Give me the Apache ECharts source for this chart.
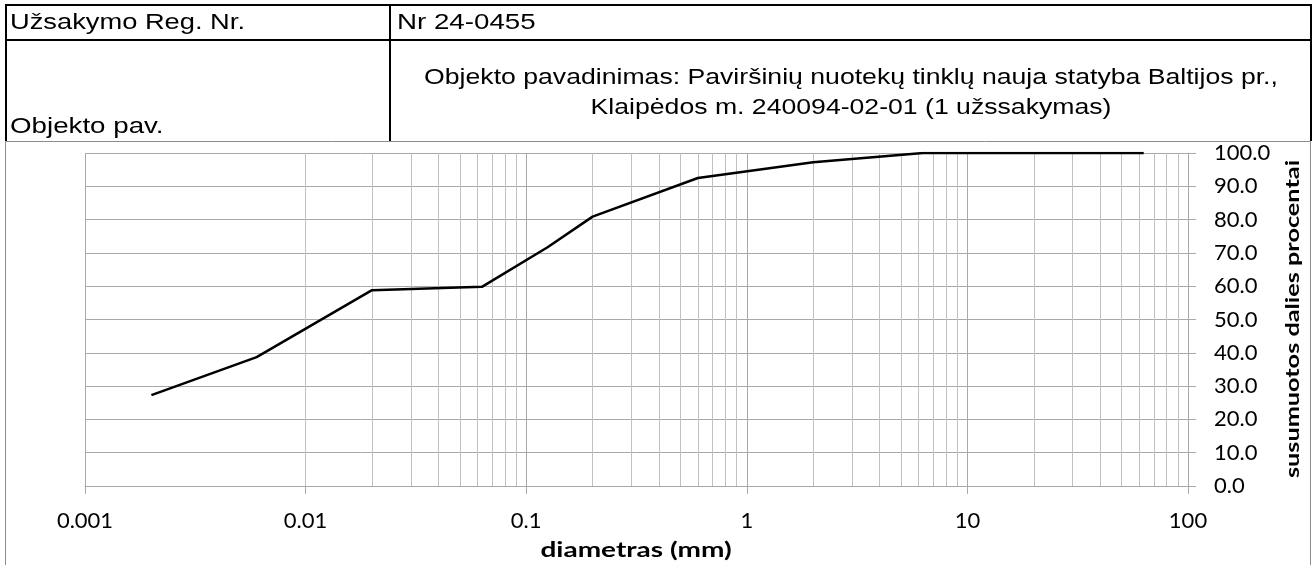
<!DOCTYPE html>
<html>
<head>
<meta charset="utf-8">
<script src="https://cdn.jsdelivr.net/npm/echarts@6/dist/echarts.min.js"></script>
<style>
  html, body { margin: 0; padding: 0; background: #fff; }
  #chart { width: 1313px; height: 565px; }
</style>
</head>
<body>
<div id="chart"></div>
<script>
// Grain size distribution: particle diameter (mm) vs cumulative passing (%)
const diameters = [0.002, 0.006, 0.02, 0.063, 0.125, 0.2, 0.6, 2, 6.3, 20, 63];
const passing   = [27.3, 38.7, 58.8, 59.8, 71.7, 80.9, 92.5, 97.2, 100, 100, 100];

// Log-axis labels, one per decade from 0.001 to 100
const xTickLabels = ['0.001', '0.01', '0.1', '1', '10', '100'];
// Intermediate gridlines inside each decade (2..9 × 10^n)
const minorGrid = [];
for (let e = -3; e < 2; e++) {
  for (let m = 2; m <= 9; m++) minorGrid.push(+(m * Math.pow(10, e)).toPrecision(3));
}

// Header table texts
const headerLabels = ['Užsakymo Reg. Nr.', 'Objekto pav.'];
const headerValues = ['Nr 24-0455',
  'Objekto pavadinimas: Paviršinių nuotekų tinklų nauja statyba Baltijos pr.,\nKlaipėdos m. 240094-02-01 (1 užssakymas)'];

const xTitle = 'diametras (mm)';
const yTitle = 'susumuotos dalies procentai';

const chart = echarts.init(document.getElementById('chart'), null, { renderer: 'canvas' });

const gridColor = '#a9a9a9';
const labelFont = 'Lato, "Open Sans", sans-serif';
const tableFont = '"Liberation Sans", Arial, sans-serif';

const lineBlack = { stroke: '#000', lineWidth: 2 };

chart.setOption({
  animation: false,
  backgroundColor: '#fff',
  grid: { left: 85, right: 125, top: 153, bottom: 79, containLabel: false },
  xAxis: {
    type: 'log',
    logBase: 10,
    min: 0.001,
    max: 100,
    axisLine: { show: true, lineStyle: { color: gridColor, width: 1 } },
    axisTick: { show: true, length: 8, lineStyle: { color: gridColor } },
    axisLabel: {
      margin: 24,
      fontFamily: labelFont,
      fontSize: 22,
      color: '#000',
      formatter: v => xTickLabels[Math.round(Math.log10(v)) + 3]
    },
    splitLine: { show: true, lineStyle: { color: gridColor, width: 1 } }
  },
  yAxis: {
    type: 'value',
    position: 'right',
    min: 0,
    max: 100,
    interval: 10,
    axisLine: { show: true, lineStyle: { color: gridColor, width: 1 } },
    axisTick: { show: true, length: 8, lineStyle: { color: gridColor } },
    axisLabel: {
      margin: 26,
      fontFamily: labelFont,
      fontSize: 22,
      color: '#000',
      formatter: v => v.toFixed(1)
    },
    splitLine: { show: true, lineStyle: { color: gridColor, width: 1 } }
  },
  series: [{
    type: 'line',
    data: diameters.map((d, i) => [d, passing[i]]),
    showSymbol: false,
    symbol: 'none',
    lineStyle: { color: '#000', width: 2.5 },
    z: 5,
    markLine: {
      silent: true,
      symbol: 'none',
      label: { show: false },
      lineStyle: { color: '#c0c0c0', width: 1, type: 'solid' },
      z: 1,
      data: minorGrid.map(v => ({ xAxis: v }))
    }
  }],
  graphic: [
    // chart frame
    { type: 'rect', shape: { x: 5.5, y: 141.5, width: 1305, height: 430 },
      style: { fill: null, stroke: '#8c8c8c', lineWidth: 1 }, z: 0 },
    // header table lines
    { type: 'line', shape: { x1: 5, y1: 5, x2: 1312, y2: 5 }, style: lineBlack },
    { type: 'line', shape: { x1: 5, y1: 40, x2: 1312, y2: 40 }, style: lineBlack },
    { type: 'line', shape: { x1: 6, y1: 4, x2: 6, y2: 141 }, style: lineBlack },
    { type: 'line', shape: { x1: 1311, y1: 4, x2: 1311, y2: 141 }, style: lineBlack },
    { type: 'line', shape: { x1: 390, y1: 4, x2: 390, y2: 141 }, style: lineBlack },
    // header texts
    { type: 'text', x: 10, y: 23, scaleX: 1.24,
      style: { text: headerLabels[0], font: '22px ' + tableFont, fill: '#000', verticalAlign: 'middle' } },
    { type: 'text', x: 397, y: 23, scaleX: 1.26,
      style: { text: headerValues[0], font: '22px ' + tableFont, fill: '#000', verticalAlign: 'middle' } },
    { type: 'text', x: 10, y: 127, scaleX: 1.26,
      style: { text: headerLabels[1], font: '22px ' + tableFont, fill: '#000', verticalAlign: 'middle' } },
    { type: 'text', x: 851, y: 93, scaleX: 1.21,
      style: { text: headerValues[1], font: '22px ' + tableFont, fill: '#000',
               align: 'center', verticalAlign: 'middle', lineHeight: 30 } },
    // axis titles
    { type: 'text', x: 636, y: 551, scaleX: 1.4,
      style: { text: xTitle, font: 'bold 20px ' + labelFont, fill: '#000',
               align: 'center', verticalAlign: 'middle' } },
    { type: 'text', x: 1293, y: 319, rotation: Math.PI / 2, scaleX: 1.33,
      style: { text: yTitle, font: 'bold 19px ' + labelFont, fill: '#000',
               align: 'center', verticalAlign: 'middle' } }
  ]
});
</script>
</body>
</html>
